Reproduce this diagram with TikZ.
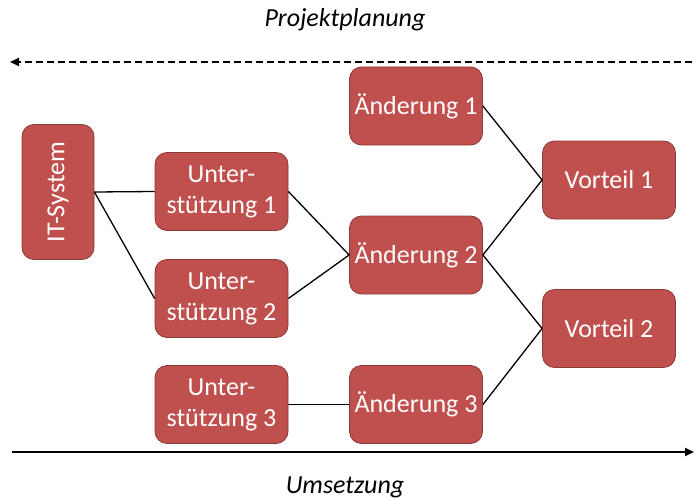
\documentclass[tikz,border=0pt]{standalone}
\usepackage{fontspec}
\setmainfont{Carlito}
\usetikzlibrary{arrows.meta}
\definecolor{boxred}{HTML}{C0504D}
\definecolor{boxline}{HTML}{8C3836}
\tikzset{
  box/.style={draw=boxline, line width=0.8pt, fill=boxred, rounded corners=12pt,
    text=white, align=center, inner sep=2pt, font=\fontsize{26}{31}\selectfont,
    minimum width=133pt, minimum height=78pt},
  link/.style={line width=1.3pt},
  timeline/.style={line width=1.8pt, -{Triangle[length=9pt,width=8pt]}}
}
\begin{document}
\begin{tikzpicture}[x=1pt, y=-1pt]
  \useasboundingbox (0,0) rectangle (698,500);

  % Labels
  \node (plan) at (345,20) {\fontsize{26}{30}\selectfont\itshape Projektplanung};
  \node (ums) at (345,487) {\fontsize{26}{30}\selectfont\itshape Umsetzung};

  % Time arrows
  \coordinate (pr) at (692,62); \coordinate (pl) at (10,62);
  \coordinate (ul) at (12,452); \coordinate (ur) at (694,452);
  \draw[timeline, dashed, dash pattern=on 7pt off 4pt] (pr) -- (pl);
  \draw[timeline] (ul) -- (ur);

  % Column 1
  \node[box, rotate=90, minimum width=135pt, minimum height=72pt] (it) at (58,192) {IT-System};
  % Column 2
  \node[box] (u1) at (221.5,191.5) {Unter-\\stützung 1};
  \node[box] (u2) at (221.5,298.5) {Unter-\\stützung 2};
  \node[box] (u3) at (221.5,404.5) {Unter-\\stützung 3};
  % Column 3
  \node[box] (a1) at (416,106) {Änderung 1};
  \node[box] (a2) at (416,255) {Änderung 2};
  \node[box] (a3) at (416,404.5) {Änderung 3};
  % Column 4
  \node[box] (v1) at (609,180) {Vorteil 1};
  \node[box] (v2) at (609,328.5) {Vorteil 2};

  % Connectors
  \draw[link] (it.south) -- (u1.west);
  \draw[link] (it.south) -- (u2.west);
  \draw[link] (u1.east) -- (a2.west);
  \draw[link] (u2.east) -- (a2.west);
  \draw[link] (u3.east) -- (a3.west);
  \draw[link] (a1.east) -- (v1.west);
  \draw[link] (a2.east) -- (v1.west);
  \draw[link] (a2.east) -- (v2.west);
  \draw[link] (a3.east) -- (v2.west);
\end{tikzpicture}
\end{document}
